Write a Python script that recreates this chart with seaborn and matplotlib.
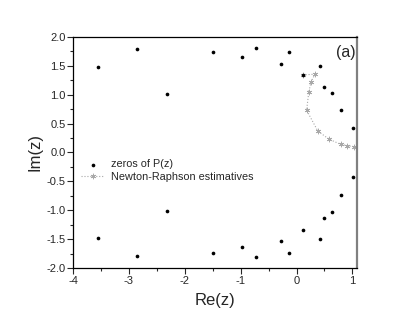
import numpy as np
import pandas as pd
import matplotlib
matplotlib.use("Agg")
import matplotlib.pyplot as plt
from matplotlib.ticker import MultipleLocator
import seaborn as sns

# zeros of P(z), upper half (lower half is the conjugate)
zero_re_upper = [-3.55, -2.85, -2.32, -1.49, -0.97, -0.73, -0.28, -0.14,
                 0.12, 0.42, 0.49, 0.63, 0.79, 1.01]
zero_im_upper = [1.47, 1.79, 1.01, 1.73, 1.64, 1.81, 1.52, 1.74,
                 1.33, 1.49, 1.13, 1.02, 0.73, 0.43]

# Newton-Raphson path
nr_re = [1.02, 0.90, 0.79, 0.58, 0.38, 0.18, 0.22, 0.26, 0.33, 0.12]
nr_im = [0.10, 0.12, 0.14, 0.23, 0.37, 0.73, 1.05, 1.22, 1.35, 1.34]

zeros = pd.DataFrame({
    "re": zero_re_upper + zero_re_upper,
    "im": zero_im_upper + [-v for v in zero_im_upper],
})
nr = pd.DataFrame({"re": nr_re, "im": nr_im})

sns.set_style("ticks")
plt.rcParams["font.family"] = ["Liberation Sans", "DejaVu Sans"]
plt.rcParams["axes.unicode_minus"] = False

fig = plt.figure(figsize=(4.15, 3.21), dpi=100)
ax = fig.add_axes([0.176, 0.164, 0.684, 0.722])

sns.lineplot(data=nr, x="re", y="im", sort=False, ax=ax, color="#a8a8a8",
             linestyle=":", linewidth=0.8, marker=(6, 2, 0), markersize=4,
             markeredgecolor="#a8a8a8", markeredgewidth=0.5,
             label="Newton-Raphson estimatives", zorder=2)
sns.scatterplot(data=zeros, x="re", y="im", ax=ax, color="black", s=7,
                linewidth=0, label="zeros of P(z)", zorder=3)

ax.set_xlim(-4, 1.08)
ax.set_ylim(-2, 2)
ax.xaxis.set_major_locator(MultipleLocator(1))
ax.xaxis.set_minor_locator(MultipleLocator(0.5))
ax.yaxis.set_major_locator(MultipleLocator(0.5))
ax.yaxis.set_minor_locator(MultipleLocator(0.25))
ax.yaxis.set_major_formatter(matplotlib.ticker.FormatStrFormatter("%.1f"))
ax.tick_params(which="major", direction="out", length=4, width=0.8,
               labelsize=8, pad=1.5, top=False, right=False)
ax.tick_params(which="minor", direction="out", length=2, width=0.8,
               top=False, right=False)

for side in ["left", "bottom", "top"]:
    ax.spines[side].set_color("black")
    ax.spines[side].set_linewidth(0.9)
ax.spines["right"].set_color("#808080")
ax.spines["right"].set_linewidth(1.6)

ax.set_xlabel("Re(z)", fontsize=12, labelpad=5)
ax.set_ylabel("Im(z)", fontsize=12, labelpad=3)
ax.text(0.995, 0.93, "(a)", transform=ax.transAxes, ha="right", va="center",
        fontsize=11.5)

h, l = ax.get_legend_handles_labels()
ax.legend(h[::-1], l[::-1], loc="center left", bbox_to_anchor=(0.0, 0.422),
          frameon=False, fontsize=7.8, handlelength=2.2, handletextpad=0.6,
          labelspacing=0.22, borderaxespad=0.3)

fig.savefig("out.png", dpi=100)
